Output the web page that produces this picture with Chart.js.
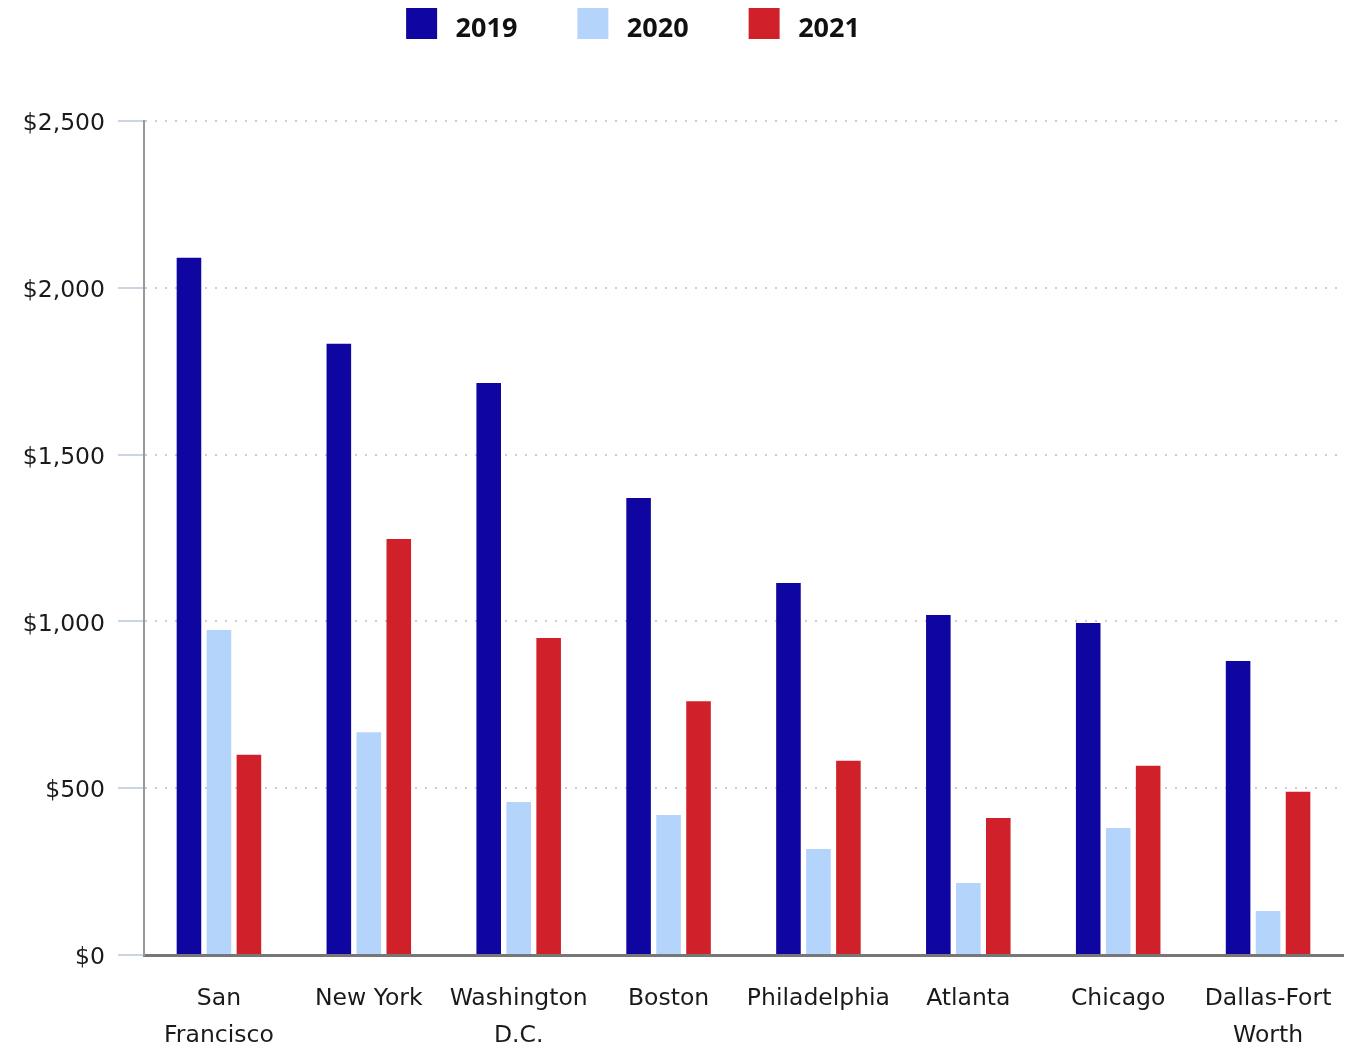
<!DOCTYPE html>
<html>
<head>
<meta charset="utf-8">
<script src="https://cdn.jsdelivr.net/npm/chart.js@4"></script>
<style>
  body { margin: 0; background: #fff; }
</style>
</head>
<body>
<canvas id="rentChart" width="1345" height="1049"></canvas>
<script>
const cities = [['San', 'Francisco'], 'New York', ['Washington', 'D.C.'], 'Boston', 'Philadelphia', 'Atlanta', 'Chicago', ['Dallas-Fort', 'Worth']];
const years = ['2019', '2020', '2021'];
const values2019 = [2090, 1832, 1715, 1370, 1115, 1019, 995, 881];
const values2020 = [974, 668, 459, 420, 318, 216, 381, 132];
const values2021 = [600, 1247, 950, 761, 582, 411, 567, 489];
const yTicks = [0, 500, 1000, 1500, 2000, 2500];

const colors = ['#0f05a0', '#b4d4fc', '#d0212a'];
const TICK_FONT = "'DejaVu Sans', sans-serif";
const LEGEND_FONT = "'Open Sans', 'Noto Sans', sans-serif";

// legend gets a fixed height, sits a bit higher / left, and its text a bit lower than the swatch
const legendFit = {
    id: 'legendFit',
    beforeInit(chart) {
        const lg = chart.legend;
        const fit = lg.fit;
        lg.fit = function () {
            fit.bind(lg)();
            this.height = 121;
        };
        const draw = lg.draw;
        lg.draw = function () {
            const ctx = this.ctx;
            const fillText = ctx.fillText;
            ctx.fillText = function (t, x, y, ...rest) {
                return fillText.call(this, t, x, y + 6, ...rest);
            };
            draw.call(lg);
            ctx.fillText = fillText;
        };
    },
    afterLayout(chart) {
        const lg = chart.legend;
        lg.left -= 41;
        lg.right -= 41;
        lg.top -= 52;
        lg.bottom -= 52;
    }
};

new Chart(document.getElementById('rentChart'), {
    type: 'bar',
    data: {
        labels: cities,
        datasets: [values2019, values2020, values2021].map((vals, i) => ({
            label: years[i],
            data: vals,
            backgroundColor: colors[i],
            categoryPercentage: 0.6,
            barPercentage: 0.82
        }))
    },
    options: {
        responsive: false,
        animation: false,
        layout: { padding: { right: 2 } },
        plugins: {
            legend: {
                position: 'top',
                labels: {
                    boxWidth: 41,
                    boxHeight: 41,
                    padding: 55,
                    color: '#111',
                    font: { family: LEGEND_FONT, size: 27, weight: 'bold' },
                    // white outline trims the swatch and leaves a wider gap before the text
                    generateLabels: chart => Chart.defaults.plugins.legend.labels.generateLabels(chart)
                        .map(item => ({ ...item, lineWidth: 10, strokeStyle: '#fff' }))
                }
            },
            tooltip: { enabled: false }
        },
        scales: {
            x: {
                afterFit: s => { s.height = 94; },
                grid: { display: false, drawTicks: true, tickLength: 22 },
                border: { display: true, color: '#777', width: 3 },
                ticks: {
                    padding: 4,
                    color: '#1a1a1a',
                    font: { family: TICK_FONT, size: 23.5, lineHeight: 1.55 },
                    maxRotation: 0,
                    autoSkip: false
                }
            },
            y: {
                min: 0,
                max: 2500,
                afterFit: s => { s.width = 144; },
                afterBuildTicks: s => { s.ticks = yTicks.map(v => ({ value: v })); },
                grid: {
                    color: '#cccccc',
                    lineWidth: 2,
                    tickLength: 26,
                    tickColor: '#cad6e2',
                    tickBorderDash: [],
                    tickWidth: 2
                },
                border: { display: true, color: '#999', width: 2, dash: [2, 8] },
                ticks: {
                    padding: 13,
                    labelOffset: 3,
                    color: '#1a1a1a',
                    font: { family: TICK_FONT, size: 23.5 },
                    callback: v => '$' + v.toLocaleString('en-US')
                }
            }
        }
    },
    plugins: [legendFit]
});
</script>
</body>
</html>
